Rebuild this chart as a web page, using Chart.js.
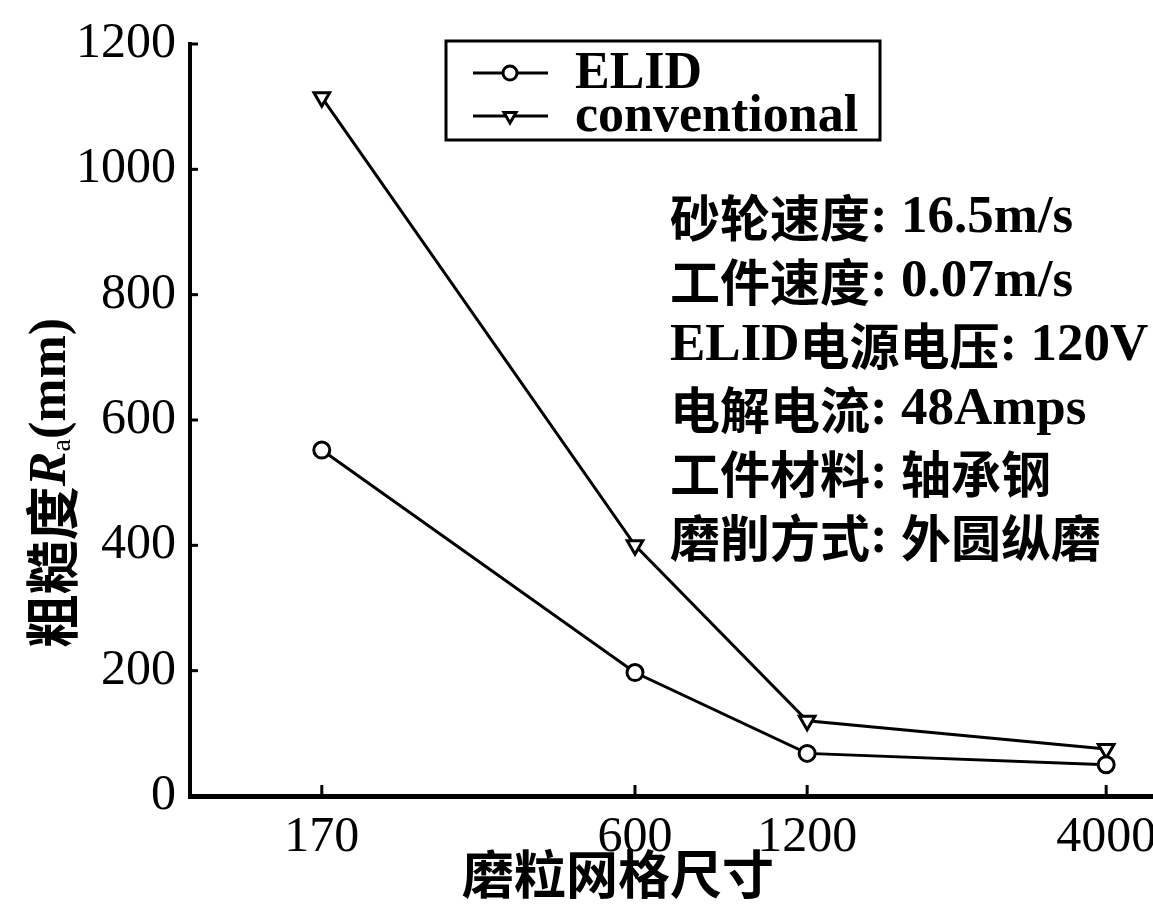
<!DOCTYPE html>
<html>
<head>
<meta charset="utf-8">
<script src="https://cdn.jsdelivr.net/npm/chart.js@4.4.1/dist/chart.umd.min.js"></script>
<style>
  html, body { margin: 0; padding: 0; background: #fff; }
  #wrap { width: 1153px; height: 904px; }
</style>
</head>
<body>
<div id="wrap"><canvas id="chart" width="1153" height="904"></canvas></div>
<script>
// ---- data ----
const gritSizes = [170, 600, 1200, 4000];
const elidRa = [552, 197, 68, 50];
const conventionalRa = [1115, 400, 120, 75];
const yTicks = [0, 200, 400, 600, 800, 1000, 1200];
const seriesNames = ['ELID', 'conventional'];
const conditionLines = [
  '砂轮速度: 16.5m/s',
  '工件速度: 0.07m/s',
  'ELID电源电压: 120V',
  '电解电流: 48Amps',
  '工件材料: 轴承钢',
  '磨削方式: 外圆纵磨'
];
const xTitle = '磨粒网格尺寸';
const yTitleParts = ['粗糙度', 'R', 'a', '(mm)'];

const SERIF = '"Liberation Serif", "DejaVu Serif", serif';
const CJK = '"Noto Sans CJK SC", sans-serif';
const isCJK = ch => /[\u3000-\u9fff\uff00-\uffef]/.test(ch);

// split text into latin / cjk runs so each gets its own font
function runsOf(text) {
  const out = [];
  for (const ch of text) {
    const c = isCJK(ch);
    if (out.length && out[out.length - 1].cjk === c) out[out.length - 1].t += ch;
    else out.push({ t: ch, cjk: c });
  }
  return out;
}

function drawMixed(ctx, text, x, y, latinFont, cjkFont) {
  ctx.textAlign = 'left';
  ctx.textBaseline = 'middle';
  for (const r of runsOf(text)) {
    ctx.font = r.cjk ? cjkFont : latinFont;
    ctx.fillText(r.t, x, y);
    x += ctx.measureText(r.t).width;
  }
  return x;
}

// inward tick marks on both axes
const inwardTicks = {
  id: 'inwardTicks',
  afterDraw(chart) {
    const { ctx, chartArea, scales } = chart;
    ctx.save();
    ctx.strokeStyle = '#000';
    ctx.lineWidth = 3;
    scales.x.ticks.forEach((t, i) => {
      const px = scales.x.getPixelForTick(i);
      ctx.beginPath();
      ctx.moveTo(px, chartArea.bottom);
      ctx.lineTo(px, chartArea.bottom - 11);
      ctx.stroke();
    });
    scales.y.ticks.forEach((t, i) => {
      const py = scales.y.getPixelForTick(i);
      ctx.beginPath();
      ctx.moveTo(chartArea.left, py);
      ctx.lineTo(chartArea.left + 8, py);
      ctx.stroke();
    });
    ctx.restore();
  }
};

// framed legend, parameter block and axis titles
const decorations = {
  id: 'decorations',
  afterDraw(chart) {
    const ctx = chart.ctx;
    ctx.save();
    ctx.fillStyle = '#000';
    ctx.strokeStyle = '#000';

    // legend
    ctx.lineWidth = 3;
    ctx.strokeRect(446, 41, 434, 99);
    chart.data.datasets.forEach((ds, i) => {
      const y = 73 + i * 43;
      ctx.lineWidth = 3;
      ctx.beginPath();
      ctx.moveTo(473, y);
      ctx.lineTo(548, y);
      ctx.stroke();
      ctx.fillStyle = '#fff';
      Chart.helpers.drawPoint(ctx, {
        pointStyle: ds.pointStyle, rotation: ds.pointRotation || 0,
        radius: 7, borderWidth: 3
      }, 510, y);
      ctx.fillStyle = '#000';
      ctx.font = 'bold 52px ' + SERIF;
      ctx.textAlign = 'left';
      ctx.textBaseline = 'middle';
      ctx.fillText(ds.label, 575, y + 2);
    });

    // test conditions
    conditionLines.forEach((line, i) => {
      drawMixed(ctx, line, 670, 218 + i * 64, 'bold 53px ' + SERIF, 'bold 50px ' + CJK);
    });

    // x title
    ctx.font = 'bold 52px ' + CJK;
    ctx.textAlign = 'center';
    ctx.textBaseline = 'middle';
    ctx.fillText(xTitle, 618, 874);

    // y title (rotated, italic R with subscript a)
    ctx.save();
    ctx.translate(52, 483);
    ctx.rotate(-Math.PI / 2);
    const fonts = ['bold 54px ' + CJK, 'italic bold 52px ' + SERIF, '28px ' + SERIF, 'bold 52px ' + SERIF];
    const shifts = [0, 0, 11, 0];
    let total = 0;
    yTitleParts.forEach((p, i) => { ctx.font = fonts[i]; total += ctx.measureText(p).width; });
    let x = -total / 2;
    ctx.textAlign = 'left';
    ctx.textBaseline = 'middle';
    yTitleParts.forEach((p, i) => {
      ctx.font = fonts[i];
      ctx.fillText(p, x, shifts[i]);
      x += ctx.measureText(p).width;
    });
    ctx.restore();

    ctx.restore();
  }
};

new Chart(document.getElementById('chart'), {
  type: 'line',
  data: {
    datasets: [
      {
        label: seriesNames[0],
        data: gritSizes.map((g, i) => ({ x: g, y: elidRa[i] })),
        borderColor: '#000', borderWidth: 3,
        pointStyle: 'circle', pointRadius: 8, pointBorderWidth: 3,
        pointBackgroundColor: '#fff', pointBorderColor: '#000'
      },
      {
        label: seriesNames[1],
        data: gritSizes.map((g, i) => ({ x: g, y: conventionalRa[i] })),
        borderColor: '#000', borderWidth: 3,
        pointStyle: 'triangle', pointRotation: 180, pointRadius: 9, pointBorderWidth: 3,
        pointBackgroundColor: '#fff', pointBorderColor: '#000'
      }
    ]
  },
  options: {
    responsive: false,
    animation: false,
    devicePixelRatio: 1,
    layout: { padding: { top: 40, right: 0, left: 0, bottom: 0 }, autoPadding: false },
    plugins: { legend: { display: false }, tooltip: { enabled: false } },
    scales: {
      x: {
        type: 'logarithmic', position: 'bottom',
        min: 100, max: 4830,
        grid: { display: false, drawTicks: false },
        border: { display: true, color: '#000', width: 5 },
        afterBuildTicks: s => { s.ticks = gritSizes.map(v => ({ value: v })); },
        afterFit: s => { s.height = 108; s.paddingLeft = 0; s.paddingRight = 0; },
        ticks: {
          color: '#000', font: { family: SERIF, size: 50 }, padding: 12,
          autoSkip: false, maxRotation: 0,
          callback: v => String(v)
        }
      },
      y: {
        type: 'linear', min: 0, max: 1200,
        grid: { display: false, drawTicks: false },
        border: { display: true, color: '#000', width: 4 },
        afterBuildTicks: s => { s.ticks = yTicks.map(v => ({ value: v })); },
        afterFit: s => { s.width = 190; },
        ticks: {
          color: '#000', font: { family: SERIF, size: 50 }, padding: 14,
          callback: v => String(v)
        }
      }
    }
  },
  plugins: [inwardTicks, decorations]
});
</script>
</body>
</html>
